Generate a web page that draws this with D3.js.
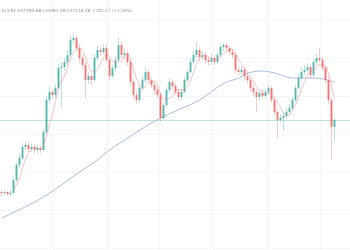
<!DOCTYPE html>
<html>
<head>
<meta charset="utf-8">
<script src="https://cdn.jsdelivr.net/npm/d3@7"></script>
<style>
  body { margin: 0; background: #fff; }
  svg { display: block; }
</style>
</head>
<body>
<script>
// candle closes, highs and lows (opens are the previous close)
var firstOpen = 49900;
var closes = [49800, 49900, 49700, 49800, 51100, 52600, 53300, 54400, 54600, 54200,
  54400, 54100, 54300, 54100, 55900, 59100, 59900, 59600, 60300, 62300,
  62400, 62900, 63600, 65100, 65300, 64300, 63300, 62600, 61100, 61500,
  61100, 63300, 64100, 63900, 64300, 63100, 61500, 62300, 63100, 64600,
  63600, 63800, 62900, 60900, 59600, 59100, 60300, 61100, 61900, 61100,
  60600, 60100, 59600, 57300, 58600, 60100, 60900, 60500, 59900, 59400,
  59900, 61100, 61900, 62900, 63600, 64100, 63400, 63600, 63100, 62900,
  63300, 62900, 63600, 64400, 64600, 64300, 63900, 63600, 62100, 61900,
  62100, 61500, 61100, 60300, 59900, 59400, 59800, 59500, 59900, 60300,
  59100, 57900, 57100, 57300, 57500, 57900, 58300, 59100, 60300, 61300,
  61900, 62100, 62400, 61600, 62900, 63300, 63100, 62300, 61100, 59100,
  56413.91, 57116.18];
var highs = [50100, 50100, 50000, 50100, 51400, 52900, 53700, 54800, 55000, 55000,
  54700, 54700, 54600, 54500, 56200, 59500, 60500, 60200, 60700, 62700,
  62900, 63300, 64100, 65500, 65800, 65600, 64700, 63600, 62900, 61900,
  61800, 63700, 64600, 64400, 64700, 64600, 63300, 62600, 63500, 65400,
  64900, 64200, 64100, 63200, 61200, 60000, 60600, 61500, 62400, 62200,
  61400, 60900, 60400, 59900, 58900, 60400, 61300, 61200, 60800, 60200,
  60200, 61400, 62200, 63300, 64000, 64900, 64400, 64000, 63900, 63400,
  63700, 63600, 63900, 64700, 64800, 64800, 64500, 64200, 63800, 62400,
  62400, 62400, 61800, 61300, 60600, 60200, 60100, 60100, 60200, 60700,
  60500, 59300, 58200, 57700, 57900, 58300, 58700, 59400, 60600, 61700,
  62400, 62600, 62800, 62600, 63200, 63800, 64300, 63400, 62500, 61300,
  59300, 57293.68];
var lows = [49500, 49600, 49500, 49500, 49700, 50900, 52300, 53100, 54100, 53900,
  53900, 53800, 53800, 53800, 54000, 55700, 58800, 59200, 59300, 60100,
  58300, 62000, 62600, 63400, 64800, 64000, 62800, 62200, 59300, 60700,
  60600, 60900, 63000, 63500, 63600, 62800, 61100, 61200, 62000, 62900,
  63300, 63300, 62500, 60500, 59200, 58700, 58900, 60000, 60800, 60800,
  60300, 59700, 59300, 56900, 57100, 58400, 59800, 60100, 59600, 59000,
  59100, 59700, 60900, 61700, 62600, 63300, 63000, 63100, 62700, 62500,
  62600, 62600, 62700, 63400, 64100, 64000, 63600, 63300, 61800, 61500,
  61600, 61100, 60800, 59900, 59500, 57900, 59100, 59200, 59200, 59700,
  58800, 57500, 55300, 56800, 56100, 57200, 57600, 58000, 58900, 60100,
  61000, 61600, 61800, 61200, 61400, 62600, 62800, 62000, 60800, 58700,
  53100, 55061.58];

// long moving average, read at some candle indices
var maIdx = [0, 14, 27, 32, 36, 40, 53, 66, 75, 80, 82, 87, 91, 97, 104, 111];
var maVal = [47300, 49400, 52100, 53100, 54100, 54900, 57300, 59100, 60900, 61400,
  61800, 62000, 61800, 61300, 61300, 60900];

var gridIdx = [17, 35, 52.5, 70.5, 88.5, 106];
var gridPrice = [44300, 48100, 51900, 55700, 59500, 63300, 67100];

// the visible part of the OHLC legend (its start is off screen in the picture)
var header = "413.91 H57293.68 L55061.58 C57116.18 +702.27 (+1.24%)";

var width = 350, height = 250;
var upColor = "#26a69a", downColor = "#ef5350";

var svg = d3.select("body").append("svg")
    .attr("width", width)
    .attr("height", height);

var x = d3.scaleLinear().domain([-0.5, 111.5]).range([0, 336]);
var y = d3.scaleLinear().domain([43100, 69100]).range([260, 0]);

var candles = closes.map(function(c, i){
    return {
        i: i,
        o: i == 0 ? firstOpen : closes[i - 1],
        c: c,
        h: highs[i],
        l: lows[i]
    };
});

//grid, very faint
svg.selectAll(".vgrid")
    .data(gridIdx)
    .enter().append("line")
    .attr("x1", function(d){ return Math.round(x(d)) + 0.5; })
    .attr("x2", function(d){ return Math.round(x(d)) + 0.5; })
    .attr("y1", 0).attr("y2", height)
    .attr("stroke", "#f5f6f9");

svg.selectAll(".hgrid")
    .data(gridPrice)
    .enter().append("line")
    .attr("x1", 0).attr("x2", width)
    .attr("y1", function(d){ return Math.round(y(d)) + 0.5; })
    .attr("y2", function(d){ return Math.round(y(d)) + 0.5; })
    .attr("stroke", "#f5f6f9");

//last price line
var last = closes[closes.length - 1];
svg.append("line")
    .attr("x1", 0).attr("x2", width)
    .attr("y1", Math.round(y(last)) + 0.5)
    .attr("y2", Math.round(y(last)) + 0.5)
    .attr("stroke", upColor)
    .attr("stroke-opacity", 0.3);

//long MA
var maLine = d3.line()
    .x(function(d){ return x(d[0]); })
    .y(function(d){ return y(d[1]); })
    .curve(d3.curveMonotoneX);

svg.append("path")
    .datum(d3.zip(maIdx, maVal))
    .attr("fill", "none")
    .attr("stroke", "#a7bfe0")
    .attr("stroke-width", 1)
    .attr("d", maLine);

//wicks
svg.selectAll(".wick")
    .data(candles)
    .enter().append("line")
    .attr("x1", function(d){ return x(d.i); })
    .attr("x2", function(d){ return x(d.i); })
    .attr("y1", function(d){ return y(d.h); })
    .attr("y2", function(d){ return y(d.l); })
    .attr("stroke", function(d){ return d.c >= d.o ? upColor : downColor; })
    .attr("stroke-opacity", 0.45)
    .attr("stroke-width", 0.7);

//bodies
svg.selectAll(".body")
    .data(candles)
    .enter().append("rect")
    .attr("x", function(d){ return x(d.i) - 1; })
    .attr("width", 2)
    .attr("y", function(d){ return y(Math.max(d.o, d.c)); })
    .attr("height", function(d){ return Math.max(0.8, Math.abs(y(d.o) - y(d.c))); })
    .attr("fill", function(d){ return d.c >= d.o ? upColor : downColor; })
    .attr("fill-opacity", 0.7);

//short MA of closes
var win = 5;
var sma = [];
for (var i = win - 1; i < closes.length; i++) {
    sma.push([i, d3.mean(closes.slice(i - win + 1, i + 1))]);
}
svg.append("path")
    .datum(sma)
    .attr("fill", "none")
    .attr("stroke", "#f08a92")
    .attr("stroke-opacity", 0.7)
    .attr("stroke-width", 0.8)
    .attr("d", maLine);

//header text
svg.append("text")
    .attr("x", 1)
    .attr("y", 12)
    .attr("font-family", "DejaVu Sans, sans-serif")
    .attr("font-size", 4.3)
    .attr("fill", "#8a8e99")
    .text(header);
</script>
</body>
</html>
